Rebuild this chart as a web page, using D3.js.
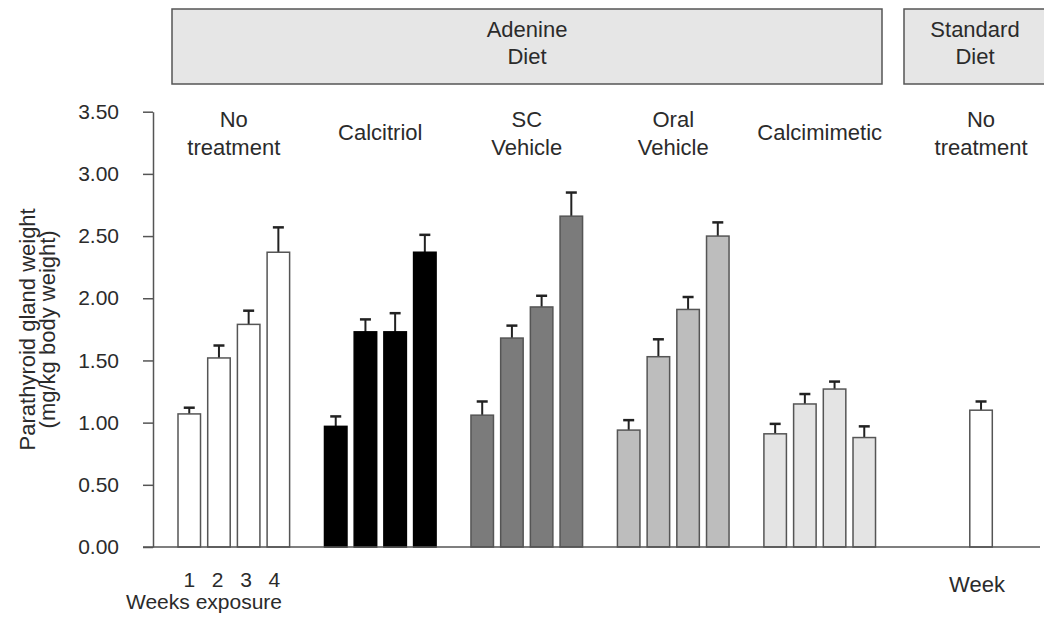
<!DOCTYPE html>
<html>
<head>
<meta charset="utf-8">
<script src="https://cdn.jsdelivr.net/npm/d3@7"></script>
<style>
  body { margin: 0; background: #fff; }
  svg text { font-family: "Liberation Sans", Arial, sans-serif; fill: #2b2b2b; }
</style>
</head>
<body>
<div id="chart"></div>
<script>
// treatment groups, left to right
var groups = ['No treatment', 'Calcitriol', 'SC Vehicle', 'Oral Vehicle', 'Calcimimetic', 'Standard No treatment'];
var groupLabels = [['No', 'treatment'], ['Calcitriol'], ['SC', 'Vehicle'], ['Oral', 'Vehicle'], ['Calcimimetic'], ['No', 'treatment']];
var groupFills = ['#ffffff', '#000000', '#7b7b7b', '#bdbdbd', '#e4e4e4', '#ffffff'];
var weeks = [1, 2, 3, 4];

// mean parathyroid gland weight (mg/kg body weight) and SE, per week
var noTreatment = [1.07, 1.52, 1.79, 2.37];
var noTreatmentErr = [0.05, 0.10, 0.11, 0.20];
var calcitriol = [0.97, 1.73, 1.73, 2.37];
var calcitriolErr = [0.08, 0.10, 0.15, 0.14];
var scVehicle = [1.06, 1.68, 1.93, 2.66];
var scVehicleErr = [0.11, 0.10, 0.09, 0.19];
var oralVehicle = [0.94, 1.53, 1.91, 2.50];
var oralVehicleErr = [0.08, 0.14, 0.10, 0.11];
var calcimimetic = [0.91, 1.15, 1.27, 0.88];
var calcimimeticErr = [0.08, 0.08, 0.06, 0.09];
var standardDiet = [1.10];
var standardDietErr = [0.07];
var standardWeeks = [3];

var yTicks = [0, 0.5, 1, 1.5, 2, 2.5, 3, 3.5];

var seriesValues = [noTreatment, calcitriol, scVehicle, oralVehicle, calcimimetic, standardDiet];
var seriesErrors = [noTreatmentErr, calcitriolErr, scVehicleErr, oralVehicleErr, calcimimeticErr, standardDietErr];
var seriesWeeks = [weeks, weeks, weeks, weeks, weeks, standardWeeks];

var width = 1044, height = 623;

var svg = d3.select('#chart').append('svg')
  .attr('width', width)
  .attr('height', height);

var y = d3.scaleLinear().domain([0, 3.5]).range([547, 111.7]);

var x = d3.scaleBand().domain(groups)
  .range([178, 1022])
  .paddingInner(0.238)
  .paddingOuter(0);

var xw = d3.scaleBand().domain(weeks)
  .range([0, x.bandwidth()])
  .paddingInner(0.242)
  .paddingOuter(0);

// diet header boxes
var adenineLeft = 172, adenineRight = 882, standardLeft = 904, standardRight = 1054;
var header = svg.append('g');
header.append('rect').attr('x', adenineLeft).attr('y', 9)
  .attr('width', adenineRight - adenineLeft).attr('height', 75)
  .attr('fill', '#e6e6e6').attr('stroke', '#555').attr('stroke-width', 1.5);
header.append('rect').attr('x', standardLeft).attr('y', 9)
  .attr('width', standardRight - standardLeft).attr('height', 75)
  .attr('fill', '#e6e6e6').attr('stroke', '#555').attr('stroke-width', 1.5);

function twoLines(g, cx, lines, y1, y2) {
  var t = g.append('text').attr('text-anchor', 'middle').attr('font-size', '22px');
  t.append('tspan').attr('x', cx).attr('y', y1).text(lines[0]);
  t.append('tspan').attr('x', cx).attr('y', y2).text(lines[1]);
}
twoLines(header, (adenineLeft + adenineRight) / 2, ['Adenine', 'Diet'], 37, 64);
twoLines(header, (standardLeft + standardRight) / 2 - 4, ['Standard', 'Diet'], 37, 64);

// group labels
groupLabels.forEach(function(lines, i) {
  var cx = x(groups[i]) + x.bandwidth() / 2;
  if (i === 5) cx = x(groups[i]) + xw(3) + xw.bandwidth() / 2;
  if (lines.length === 2) {
    twoLines(svg, cx, lines, 127, 155);
  } else {
    svg.append('text').attr('x', cx).attr('y', 140)
      .attr('text-anchor', 'middle').attr('font-size', '22px').text(lines[0]);
  }
});

// y axis
var yAxis = svg.append('g')
  .attr('transform', 'translate(153,0)')
  .call(d3.axisLeft(y).tickValues(yTicks).tickFormat(d3.format('.2f'))
    .tickSize(10).tickSizeOuter(0).tickPadding(24));
yAxis.selectAll('path, line').attr('stroke', '#555').attr('stroke-width', 1.5);
yAxis.selectAll('text').attr('font-size', '21px')
  .attr('font-family', '"Liberation Sans", Arial, sans-serif').attr('fill', '#2b2b2b');

var yl = svg.append('text').attr('text-anchor', 'middle').attr('font-size', '22px')
  .attr('transform', 'translate(0,' + ((y(0) + y(3.5)) / 2) + ') rotate(-90)');
yl.append('tspan').attr('x', 0).attr('y', 35).text('Parathyroid gland weight');
yl.append('tspan').attr('x', 0).attr('y', 55).text('(mg/kg body weight)');

// bars
groups.forEach(function(g, gi) {
  var bars = seriesValues[gi].map(function(v, k) {
    return { week: seriesWeeks[gi][k], value: v, err: seriesErrors[gi][k] };
  });
  var grp = svg.append('g').attr('transform', 'translate(' + x(g) + ',0)');

  grp.selectAll('line.err')
    .data(bars).enter()
    .append('line')
    .attr('class', 'err')
    .attr('x1', function(d) { return xw(d.week) + xw.bandwidth() / 2; })
    .attr('x2', function(d) { return xw(d.week) + xw.bandwidth() / 2; })
    .attr('y1', function(d) { return y(d.value); })
    .attr('y2', function(d) { return y(d.value + d.err); })
    .attr('stroke', '#222').attr('stroke-width', 2);

  grp.selectAll('line.cap')
    .data(bars).enter()
    .append('line')
    .attr('class', 'cap')
    .attr('x1', function(d) { return xw(d.week) + xw.bandwidth() / 2 - 5.5; })
    .attr('x2', function(d) { return xw(d.week) + xw.bandwidth() / 2 + 5.5; })
    .attr('y1', function(d) { return y(d.value + d.err); })
    .attr('y2', function(d) { return y(d.value + d.err); })
    .attr('stroke', '#222').attr('stroke-width', 2.5);

  grp.selectAll('rect')
    .data(bars).enter()
    .append('rect')
    .attr('x', function(d) { return xw(d.week); })
    .attr('y', function(d) { return y(d.value); })
    .attr('width', xw.bandwidth())
    .attr('height', function(d) { return y(0) - y(d.value); })
    .attr('fill', groupFills[gi])
    .attr('stroke', gi === 1 ? '#000' : '#555')
    .attr('stroke-width', 1.5);
});

// x baseline
svg.append('line')
  .attr('x1', 143).attr('x2', 1040)
  .attr('y1', y(0)).attr('y2', y(0))
  .attr('stroke', '#555').attr('stroke-width', 1.5);

// week numbers under first group
svg.append('g').selectAll('text')
  .data(weeks).enter()
  .append('text')
  .attr('x', function(d) { return x(groups[0]) + xw(d) + xw.bandwidth() / 2 - (d - 1) * 1.3; })
  .attr('y', 587)
  .attr('text-anchor', 'middle')
  .attr('font-size', '21px')
  .text(function(d) { return d; });

svg.append('text').attr('x', 126).attr('y', 609)
  .attr('font-size', '21px').text('Weeks exposure');

svg.append('text')
  .attr('x', x(groups[5]) + xw(3) + xw.bandwidth() / 2 - 4)
  .attr('y', 592)
  .attr('text-anchor', 'middle')
  .attr('font-size', '22px').text('Week');
</script>
</body>
</html>
